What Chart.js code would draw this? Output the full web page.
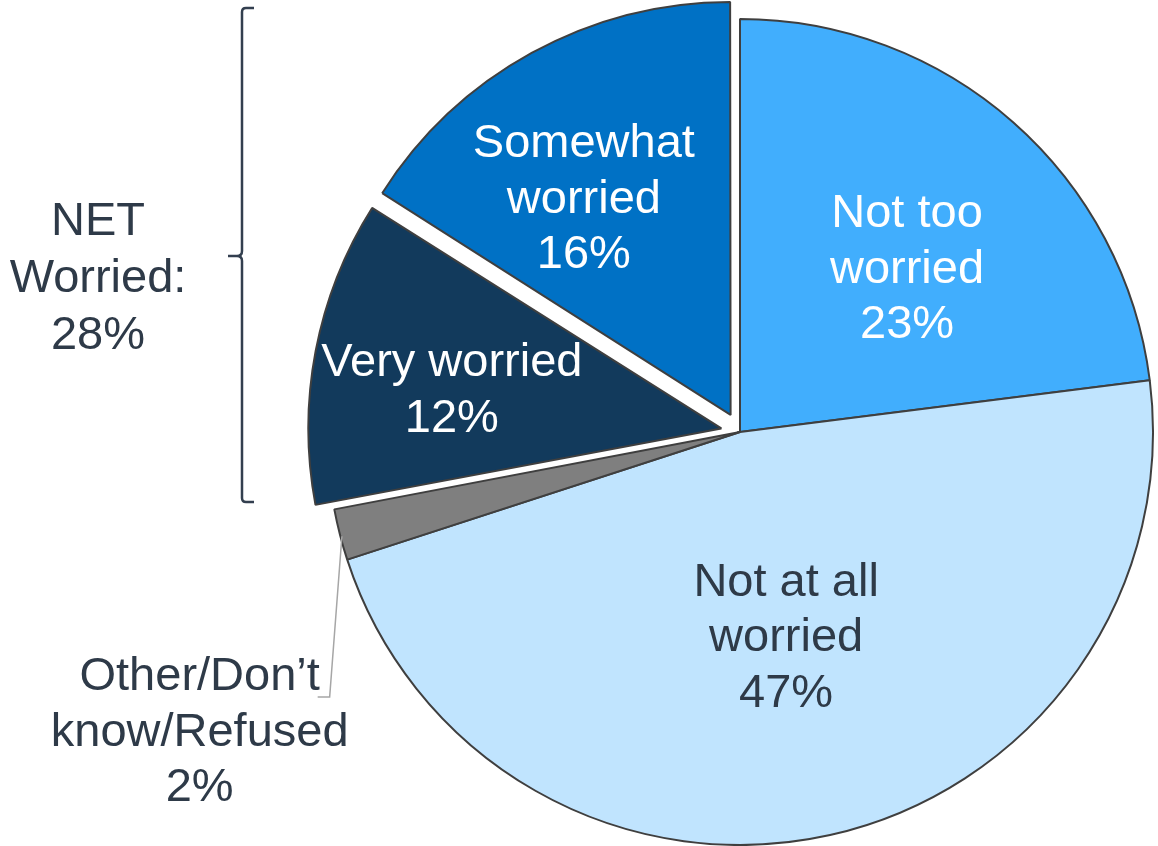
<!DOCTYPE html>
<html>
<head>
<meta charset="utf-8">
<script src="https://cdn.jsdelivr.net/npm/chart.js@4"></script>
<style>
  html, body { margin: 0; padding: 0; background: #fff; }
  #wrap { width: 1158px; height: 846px; }
</style>
</head>
<body>
<div id="wrap"><canvas id="pieChart"></canvas></div>
<script>
// Slices, clockwise from 12 o'clock
const categories = ["Not too worried", "Not at all worried", "Other/Don’t know/Refused", "Very worried", "Somewhat worried"];
const values = [23, 47, 2, 12, 16];
// How each category name is broken over lines in its label
const labelNames = [["Not too", "worried"], ["Not at all", "worried"], ["Other/Don’t", "know/Refused"], ["Very worried"], ["Somewhat", "worried"]];
const netLabel = ["NET", "Worried:"];
const netWorried = values[3] + values[4];

// Styles
const sliceColors = ["#41AEFD", "#C0E4FE", "#7F7F7F", "#123A5C", "#0071C5"];
const textColors = ["#ffffff", "#2E3A48", "#2E3A48", "#ffffff", "#ffffff"];
const explode = [0, 0, 0, 76, 78];
// label placement: share of radius, and clockwise turn (deg) from slice middle
const labelRadius = [0.57, 0.504, 1.493, 0.706, 0.685];
const labelTurn = [3.8, -0.2, -14.4, -2.0, -4.7];

const pieRadius = 413;
const FONT = '47px "Liberation Sans", Arial, sans-serif';
const LINE = 55.5;

function drawLines(ctx, lines, cx, cy, color, lh) {
    ctx.fillStyle = color;
    ctx.textAlign = "center";
    ctx.textBaseline = "alphabetic";
    lines.forEach((t, i) => {
        ctx.fillText(t, cx, cy + 16.5 + (i - (lines.length - 1) / 2) * lh);
    });
}

const pieLabels = {
    id: "pieLabels",
    afterDatasetsUpdate(chart) {
        // keep exploded slices at the common radius
        chart.getDatasetMeta(0).data.forEach(arc => {
            const off = (arc.options.offset || 0) / 4;
            const fix = 1 - Math.sin(Math.min(Math.PI, arc.circumference || 0));
            arc.outerRadius -= off * fix;
        });
    },
    afterDraw(chart) {
        const ctx = chart.ctx;
        const arcs = chart.getDatasetMeta(0).data;
        ctx.save();
        ctx.font = FONT;

        arcs.forEach((arc, i) => {
            const { x, y, startAngle, endAngle } = arc.getProps(["x", "y", "startAngle", "endAngle"]);
            const mid = (startAngle + endAngle) / 2;
            const a = mid + labelTurn[i] * Math.PI / 180;
            const lx = x + Math.cos(a) * pieRadius * labelRadius[i];
            const ly = y + Math.sin(a) * pieRadius * labelRadius[i];
            drawLines(ctx, labelNames[i].concat(values[i] + "%"), lx, ly, textColors[i], LINE);

            if (labelRadius[i] > 1) {
                // leader line from the slice to its outside label
                ctx.strokeStyle = "#A6A6A6";
                ctx.lineWidth = 1.5;
                ctx.beginPath();
                ctx.moveTo(x + Math.cos(mid) * (pieRadius - 2), y + Math.sin(mid) * (pieRadius - 2) + 2);
                ctx.lineTo(lx + 130, ly - 32);
                ctx.lineTo(lx + 118, ly - 32);
                ctx.stroke();
            }
        });

        // NET bracket
        ctx.strokeStyle = "#333F4F";
        ctx.lineWidth = 2.5;
        ctx.beginPath();
        ctx.moveTo(254, 8);
        ctx.lineTo(246, 8);
        ctx.quadraticCurveTo(242, 8, 242, 12);
        ctx.lineTo(242, 251);
        ctx.quadraticCurveTo(242, 256, 237, 256);
        ctx.lineTo(228, 256);
        ctx.moveTo(237, 256);
        ctx.quadraticCurveTo(242, 256, 242, 261);
        ctx.lineTo(242, 498);
        ctx.quadraticCurveTo(242, 502, 246, 502);
        ctx.lineTo(254, 502);
        ctx.stroke();

        drawLines(ctx, netLabel.concat(netWorried + "%"), 98, 275, "#2E3A48", 57);
        ctx.restore();
    }
};

const ctx = document.getElementById("pieChart").getContext("2d");

new Chart(ctx, {
    type: "pie",
    data: {
        labels: categories,
        datasets: [{
            data: values,
            backgroundColor: sliceColors,
            borderColor: "#3F3F3F",
            borderWidth: 2,
            offset: explode
        }]
    },
    options: {
        responsive: true,
        maintainAspectRatio: false,
        animation: false,
        events: [],
        radius: pieRadius,
        layout: { padding: { left: 322, top: 18, right: 0, bottom: 0 } },
        plugins: {
            legend: { display: false },
            tooltip: { enabled: false }
        }
    },
    plugins: [pieLabels]
});
</script>
</body>
</html>
